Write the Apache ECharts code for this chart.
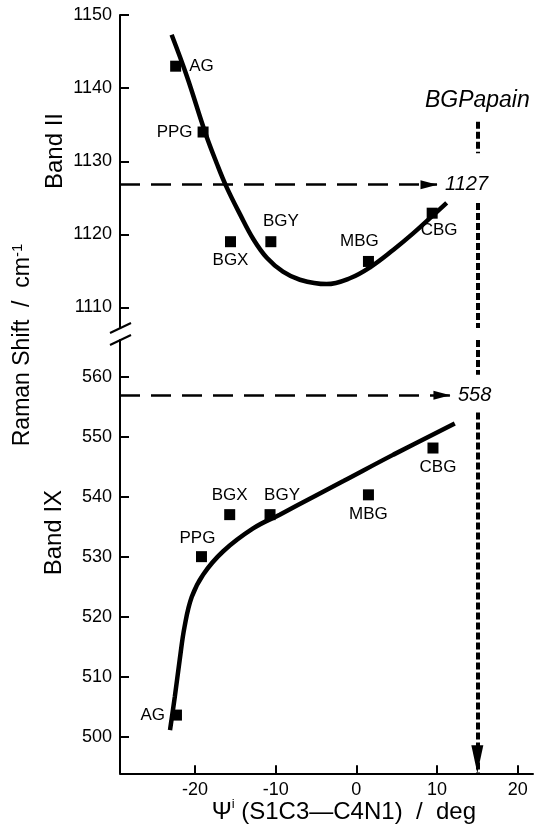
<!DOCTYPE html>
<html><head><meta charset="utf-8">
<script src="https://cdn.jsdelivr.net/npm/echarts@6/dist/echarts.min.js"></script>
<style>html,body{margin:0;padding:0;background:#fff}#c{width:535px;height:827px}</style>
</head><body><div id="c"></div>
<script>
// ---------- data ----------
const compounds = ['AG', 'PPG', 'BGX', 'BGY', 'MBG', 'CBG'];
const psiBandII = [-22.4, -19.0, -15.6, -10.6, 1.5, 9.4];
const shiftBandII = [1143, 1134, 1119, 1119, 1116.3, 1122.9];
const psiBandIX = [-22.3, -19.2, -15.7, -10.7, 1.5, 9.5];
const shiftBandIX = [503.6, 530, 537, 537, 540.3, 548.1];

const fitBandIIpsi = [-22.9, -21.0, -18.7, -17.3, -16.1, -14.4, -12.8, -11.1, -9.1, -7.0, -3.7, -0.8, 1.7, 4.6, 7.0, 9.5, 11.2];
const fitBandIIshift = [1147.3, 1141.6, 1133.8, 1129.7, 1126.5, 1122.7, 1119.4, 1116.8, 1114.9, 1113.8, 1113.2, 1114.0, 1115.5, 1117.9, 1120.1, 1122.6, 1124.3];
const fitBandIXpsi = [-23.1, -22.5, -21.9, -21.3, -20.4, -19.0, -16.5, -12.8, -9.5, -5.0, -1.6, 4.6, 12.2];
const fitBandIXshift = [501.1, 506.7, 512.8, 518.3, 523.3, 527.0, 530.9, 534.7, 537.0, 540.2, 542.6, 547.0, 552.2];

const xTicks = [-20, -10, 0, 10, 20];
const bandIITicks = [1110, 1120, 1130, 1140, 1150];
const bandIXTicks = [500, 510, 520, 530, 540, 550, 560];
const xRange = [-29.3, 21.9];
const bandIIRange = [1107.2, 1150];
const bandIXRange = [493.9, 566.1];

// BGPapain reference (dotted vertical) and its read-out levels (dashed arrows)
const papainPsi = 15;
const papainLevels = [1126.8, 556.9];
const papainLabels = ['1127', '558'];
const arrowTipPsi = [10.0, 11.6];
const papainGapsII = [1135.4, 1131.1, 1124.3];   // dotted segment ends, band II
const papainGapsIX = [560.3, 554.0];             // dotted segment ends, band IX

// ---------- chart ----------
const FONT = "'Liberation Sans', Arial, Helvetica, sans-serif";
const chart = echarts.init(document.getElementById('c'), null, {renderer: 'canvas'});

function zip(a, b) { return a.map((v, i) => [v, b[i]]); }

const labelPlaceII = {
  AG: {position: 'right', distance: 8},
  PPG: {position: 'left', distance: 5},
  BGX: {position: 'bottom', distance: 5},
  BGY: {position: 'top', distance: 6, offset: [10, 0]},
  MBG: {position: 'top', distance: 6, offset: [-9, 0]},
  CBG: {position: 'bottom', distance: 3, offset: [7, 0]}
};
const labelPlaceIX = {
  AG: {position: 'left', distance: 6},
  PPG: {position: 'top', distance: 4, offset: [-4, 0]},
  BGX: {position: 'top', distance: 5},
  BGY: {position: 'top', distance: 5, offset: [12, 0]},
  MBG: {position: 'bottom', distance: 5},
  CBG: {position: 'bottom', distance: 5, offset: [5, 0]}
};

function scatterData(xs, ys, place) {
  return compounds.map((name, i) => ({
    name: name,
    value: [xs[i], ys[i]],
    label: Object.assign({show: true, formatter: name, fontSize: 17, fontFamily: FONT, color: '#000', opacity: 1}, place[name])
  }));
}

function yAxisCfg(gi, range, ticks) {
  return {
    type: 'value', gridIndex: gi, min: range[0], max: range[1],
    axisLine: {show: true, onZero: false, lineStyle: {color: '#000', width: 2}},
    axisTick: {show: true, inside: true, length: 9, lineStyle: {color: '#000', width: 2}, customValues: ticks},
    axisLabel: {fontSize: 18, fontFamily: FONT, color: '#000', margin: 8, customValues: ticks,
      formatter: v => String(v)},
    splitLine: {show: false}
  };
}

const dashedStyle = {color: '#000', width: 2.5, type: [20, 11]};
const dottedStyle = {color: '#000', width: 4, type: [7, 3], cap: 'butt'};
const levelLabel = {show: true, position: 'end', distance: 8, fontSize: 20, fontStyle: 'italic', fontFamily: FONT, color: '#000'};

const option = {
  animation: false,
  backgroundColor: '#fff',
  grid: [
    {left: 120, top: 15, width: 413, height: 313},
    {left: 120, top: 340, width: 413, height: 433.3}
  ],
  xAxis: [
    {type: 'value', gridIndex: 0, min: xRange[0], max: xRange[1], show: false},
    {type: 'value', gridIndex: 1, min: xRange[0], max: xRange[1],
      axisLine: {show: true, onZero: false, lineStyle: {color: '#000', width: 2}},
      axisTick: {show: true, inside: true, length: 8, lineStyle: {color: '#000', width: 2}, customValues: xTicks},
      axisLabel: {fontSize: 18, fontFamily: FONT, color: '#000', margin: 8, customValues: xTicks,
        formatter: v => String(v)},
      splitLine: {show: false}}
  ],
  yAxis: [yAxisCfg(0, bandIIRange, bandIITicks), yAxisCfg(1, bandIXRange, bandIXTicks)],
  series: [
    {
      type: 'line', xAxisIndex: 0, yAxisIndex: 0, data: zip(fitBandIIpsi, fitBandIIshift),
      smooth: 0.4, symbol: 'none', lineStyle: {color: '#000', width: 4.5}, silent: true, z: 3,
      markLine: {
        silent: true, animation: false, label: {show: false}, emphasis: {disabled: true},
        data: [
          [{coord: [xRange[0], papainLevels[0]], symbol: 'none', lineStyle: dashedStyle,
            label: Object.assign({formatter: papainLabels[0]}, levelLabel)},
           {coord: [arrowTipPsi[0], papainLevels[0]], symbol: 'triangle', symbolSize: [9, 17], symbolOffset: [0, 8]}],
          [{coord: [papainPsi, papainGapsII[0]], symbol: 'none', lineStyle: dottedStyle,
            label: {show: true, position: 'start', distance: 10, formatter: 'BGPapain', fontSize: 23, fontStyle: 'italic', fontFamily: FONT, color: '#000'}},
           {coord: [papainPsi, papainGapsII[1]], symbol: 'none'}],
          [{coord: [papainPsi, papainGapsII[2]], symbol: 'none', lineStyle: dottedStyle},
           {coord: [papainPsi, bandIIRange[0]], symbol: 'none'}]
        ]
      }
    },
    {
      type: 'line', xAxisIndex: 1, yAxisIndex: 1, data: zip(fitBandIXpsi, fitBandIXshift),
      smooth: 0.4, symbol: 'none', lineStyle: {color: '#000', width: 4.5}, silent: true, z: 3,
      markLine: {
        silent: true, animation: false, label: {show: false}, emphasis: {disabled: true},
        data: [
          [{coord: [xRange[0], papainLevels[1]], symbol: 'none', lineStyle: dashedStyle,
            label: Object.assign({formatter: papainLabels[1]}, levelLabel)},
           {coord: [arrowTipPsi[1], papainLevels[1]], symbol: 'triangle', symbolSize: [9, 17], symbolOffset: [0, 8]}],
          [{coord: [papainPsi, bandIXRange[1]], symbol: 'none', lineStyle: dottedStyle},
           {coord: [papainPsi, papainGapsIX[0]], symbol: 'none'}],
          [{coord: [papainPsi, papainGapsIX[1]], symbol: 'none', lineStyle: dottedStyle},
           {coord: [papainPsi, bandIXRange[0]], symbol: 'triangle', symbolSize: [12, 28], symbolOffset: [0, 14]}]
        ]
      }
    },
    {
      type: 'scatter', xAxisIndex: 0, yAxisIndex: 0, symbol: 'rect', symbolSize: 11,
      itemStyle: {color: '#000', opacity: 1}, silent: true, z: 4,
      data: scatterData(psiBandII, shiftBandII, labelPlaceII)
    },
    {
      type: 'scatter', xAxisIndex: 1, yAxisIndex: 1, symbol: 'rect', symbolSize: 11,
      itemStyle: {color: '#000', opacity: 1}, silent: true, z: 4,
      data: scatterData(psiBandIX, shiftBandIX, labelPlaceIX)
    }
  ]
};
chart.setOption(option);

// axis titles and axis-break marks
const pBreakTop = chart.convertToPixel({gridIndex: 0}, [xRange[0], bandIIRange[0]]);
const pBreakBot = chart.convertToPixel({gridIndex: 1}, [xRange[0], bandIXRange[1]]);
const pIIMid = chart.convertToPixel({gridIndex: 0}, [xRange[0], 1131.4]);
const pIXMid = chart.convertToPixel({gridIndex: 1}, [xRange[0], 534]);
const pXMid = chart.convertToPixel({gridIndex: 1}, [-1.55, bandIXRange[0]]);

function slash(p) {
  return {type: 'line', shape: {x1: p[0] - 10, y1: p[1] + 5, x2: p[0] + 11, y2: p[1] - 5},
    style: {stroke: '#000', lineWidth: 2}};
}

chart.setOption({
  graphic: [
    slash(pBreakTop), slash(pBreakBot),
    {type: 'text', x: 23, y: 345, rotation: Math.PI / 2,
      style: {text: 'Raman Shift  /  cm{sup|-1}', font: "23px " + FONT, fill: '#000', align: 'center', verticalAlign: 'middle',
        lineHeight: 26, rich: {sup: {fontSize: 15, fontFamily: FONT, verticalAlign: 'top', lineHeight: 24}}}},
    {type: 'text', x: 55, y: pIIMid[1], rotation: Math.PI / 2,
      style: {text: 'Band II', font: "24px " + FONT, fill: '#000', align: 'center', verticalAlign: 'middle'}},
    {type: 'text', x: 54, y: pIXMid[1], rotation: Math.PI / 2,
      style: {text: 'Band IX', font: "24px " + FONT, fill: '#000', align: 'center', verticalAlign: 'middle'}},
    {type: 'text', x: pXMid[0], y: 812,
      style: {text: '\u03A8{sup|i} (S1C3\u2014C4N1)  /  deg', font: "24px " + FONT, fill: '#000', align: 'center', verticalAlign: 'middle',
        lineHeight: 28, rich: {sup: {fontSize: 13, fontFamily: FONT, verticalAlign: 'top', lineHeight: 28}}}}
  ]
});
</script>
</body></html>
